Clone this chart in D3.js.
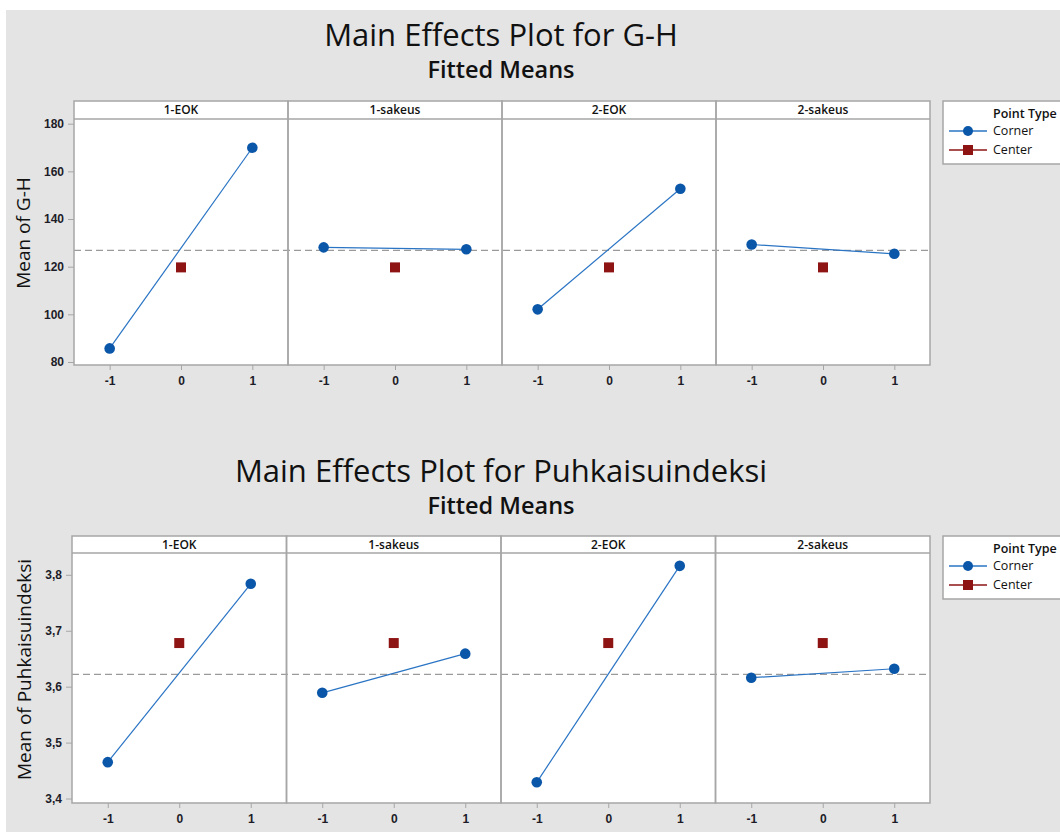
<!DOCTYPE html>
<html lang="en">
<head>
  <meta charset="UTF-8">
  <title>Main Effects Plots</title>
  <style>
    body { margin: 0; background: #fff; }
    svg { display: block; font-family: "Open Sans", "Noto Sans", sans-serif; }
    .tick text { fill: #1c1c28; font-size: 12px; }
    .strip-text { font-size: 12px; font-weight: 600; text-anchor: middle; fill: #111; }
    .legend-text { font-size: 12.5px; fill: #111; }
  </style>
</head>
<body>
  <div id="chart"></div>
  <script src="https://d3js.org/d3.v7.min.js"></script>
  <script>
    // Data
    const factors = ["1-EOK", "1-sakeus", "2-EOK", "2-sakeus"];
    const cornerLevels = [-1, 1];
    const centerLevel = 0;
    const xTicks = [-1, 0, 1];

    // G-H fitted means
    const ghCorner = [[85.7, 169.9], [128.1, 127.3], [102.1, 152.7], [129.3, 125.4]];
    const ghCenter = [119.7, 119.7, 119.7, 119.7];
    const ghMean = 126.8;
    const ghTicks = [80, 100, 120, 140, 160, 180];

    // Puhkaisuindeksi fitted means
    const puhCorner = [[3.465, 3.784], [3.589, 3.659], [3.429, 3.816], [3.616, 3.632]];
    const puhCenter = [3.678, 3.678, 3.678, 3.678];
    const puhMean = 3.622;
    const puhTicks = [3.4, 3.5, 3.6, 3.7, 3.8];

    const blue = "#0a56a8";
    const lineBlue = "#2a74c4";
    const red = "#8e1414";
    const frame = "#a6a6a6";

    const width = 1060, height = 832;
    const svg = d3.select("#chart").append("svg")
      .attr("width", width)
      .attr("height", height);

    // grey background with thin white strips at top and left
    svg.append("rect")
      .attr("x", 6).attr("y", 10)
      .attr("width", width - 6).attr("height", height - 10)
      .attr("fill", "#e4e4e4");

    function drawChart(opt) {
      const g = svg.append("g");

      // titles
      g.append("text")
        .attr("x", 501).attr("y", opt.titleY)
        .attr("text-anchor", "middle")
        .style("font-size", "31px")
        .attr("fill", "#111")
        .text(opt.title);
      g.append("text")
        .attr("x", 501).attr("y", opt.subY)
        .attr("text-anchor", "middle")
        .style("font-size", "23.5px")
        .style("font-weight", 600)
        .attr("fill", "#111")
        .text("Fitted Means");

      const panel = d3.scaleBand()
        .domain(factors)
        .range([opt.left, opt.right])
        .padding(0);

      const y = d3.scaleLinear()
        .domain(opt.yDomain)
        .range([opt.bottom, opt.plotTop]);

      // panel backgrounds
      g.selectAll(".panel-bg")
        .data(factors)
        .enter().append("rect")
        .attr("x", d => panel(d))
        .attr("y", opt.top)
        .attr("width", panel.bandwidth())
        .attr("height", opt.bottom - opt.top)
        .attr("fill", "#fff");

      // dashed grand mean
      g.append("line")
        .attr("x1", opt.left).attr("x2", opt.right)
        .attr("y1", y(opt.mean)).attr("y2", y(opt.mean))
        .attr("stroke", "#9a9a9a")
        .attr("stroke-width", 1.3)
        .attr("stroke-dasharray", "7,4");

      factors.forEach((f, i) => {
        const x = d3.scaleLinear()
          .domain([-1.5, 1.5])
          .range([panel(f), panel(f) + panel.bandwidth()]);

        const pts = cornerLevels.map((lv, j) => [lv, opt.corner[i][j]]);

        g.append("path")
          .datum(pts)
          .attr("fill", "none")
          .attr("stroke", lineBlue)
          .attr("stroke-width", 1.2)
          .attr("d", d3.line().x(d => x(d[0])).y(d => y(d[1])));

        g.selectAll(null)
          .data(pts)
          .enter().append("circle")
          .attr("cx", d => x(d[0]))
          .attr("cy", d => y(d[1]))
          .attr("r", 5.3)
          .attr("fill", blue);

        g.append("rect")
          .attr("x", x(centerLevel) - 5)
          .attr("y", y(opt.center[i]) - 5)
          .attr("width", 10).attr("height", 10)
          .attr("fill", red);

        // x axis for this panel
        const xa = g.append("g")
          .attr("transform", `translate(0,${opt.bottom})`)
          .call(d3.axisBottom(x).tickValues(xTicks).tickSize(5).tickPadding(6)
            .tickFormat(d => String(d)));
        xa.select(".domain").remove();
        xa.selectAll(".tick line").attr("stroke", frame);
        xa.selectAll(".tick text").style("font-weight", 600);

        // strip label
        g.append("text")
          .attr("class", "strip-text")
          .attr("x", panel(f) + panel.bandwidth() / 2)
          .attr("y", opt.top + 13)
          .text(f);
      });

      // y axis
      const ya = g.append("g")
        .attr("transform", `translate(${opt.left},0)`)
        .call(d3.axisLeft(y).tickValues(opt.ticks).tickSize(6).tickPadding(4).tickFormat(opt.fmt));
      ya.select(".domain").remove();
      ya.selectAll(".tick line").attr("stroke", frame);
      ya.selectAll(".tick text").style("font-weight", 600);

      // frames: panel borders and strip line
      g.selectAll(".panel-frame")
        .data(factors)
        .enter().append("rect")
        .attr("x", d => panel(d))
        .attr("y", opt.top)
        .attr("width", panel.bandwidth())
        .attr("height", opt.bottom - opt.top)
        .attr("fill", "none")
        .attr("stroke", frame)
        .attr("stroke-width", 1.5);
      g.append("line")
        .attr("x1", opt.left).attr("x2", opt.right)
        .attr("y1", opt.plotTop).attr("y2", opt.plotTop)
        .attr("stroke", frame)
        .attr("stroke-width", 1.5);

      // y axis title
      g.append("text")
        .attr("transform", `translate(${opt.yTitleX},${(opt.top + opt.bottom) / 2}) rotate(-90)`)
        .attr("text-anchor", "middle")
        .style("font-size", "19px")
        .attr("fill", "#111")
        .text(opt.yTitle);

      // legend
      const lg = g.append("g").attr("transform", `translate(943,${opt.top})`);
      lg.append("rect")
        .attr("width", 130).attr("height", 63)
        .attr("fill", "#fff")
        .attr("stroke", frame)
        .attr("stroke-width", 1.5);
      lg.append("text").attr("class", "legend-text")
        .attr("x", 50).attr("y", 17).style("font-weight", 600).text("Point Type");
      const items = [{ label: "Corner", color: lineBlue, fill: blue, shape: "circle" },
                     { label: "Center", color: red, fill: red, shape: "square" }];
      items.forEach((it, k) => {
        const ly = 34 + k * 19;
        lg.append("line")
          .attr("x1", 6).attr("x2", 44)
          .attr("y1", ly - 4).attr("y2", ly - 4)
          .attr("stroke", it.color).attr("stroke-width", 1.5);
        if (it.shape === "circle") {
          lg.append("circle").attr("cx", 25).attr("cy", ly - 4).attr("r", 5).attr("fill", it.fill);
        } else {
          lg.append("rect").attr("x", 20).attr("y", ly - 9).attr("width", 10).attr("height", 10).attr("fill", it.fill);
        }
        lg.append("text").attr("class", "legend-text")
          .attr("x", 50).attr("y", ly).text(it.label);
      });
    }

    const commaFmt = d => d3.format(".1f")(d).replace(".", ",");

    drawChart({
      title: "Main Effects Plot for G-H",
      titleY: 46, subY: 78,
      left: 74, right: 930,
      top: 101, plotTop: 119, bottom: 365,
      yDomain: [78.74, 181.97],
      corner: ghCorner, center: ghCenter, mean: ghMean,
      ticks: ghTicks, fmt: d3.format("d"),
      yTitle: "Mean of G-H", yTitleX: 30
    });

    drawChart({
      title: "Main Effects Plot for Puhkaisuindeksi",
      titleY: 482, subY: 514,
      left: 72, right: 930,
      top: 536, plotTop: 553, bottom: 803,
      yDomain: [3.392, 3.839],
      corner: puhCorner, center: puhCenter, mean: puhMean,
      ticks: puhTicks, fmt: commaFmt,
      yTitle: "Mean of Puhkaisuindeksi", yTitleX: 31
    });
  </script>
</body>
</html>
